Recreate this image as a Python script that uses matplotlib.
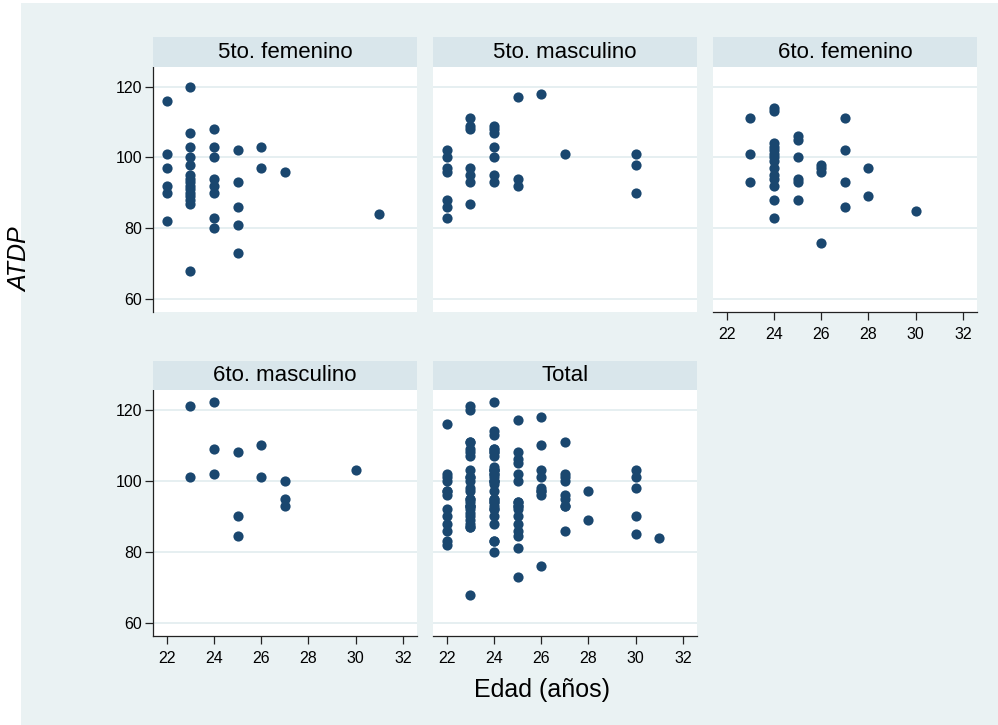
import matplotlib
matplotlib.use('Agg')
import matplotlib.pyplot as plt
from matplotlib.patches import Rectangle

plt.rcParams['font.family'] = ['Liberation Sans', 'DejaVu Sans']

# datos: edad (años) y puntaje ATDP por grupo
edad_5f = [22, 22, 22, 22, 22, 22,
           23, 23, 23, 23, 23, 23, 23, 23, 23, 23, 23, 23, 23, 23, 23,
           24, 24, 24, 24, 24, 24, 24, 24,
           25, 25, 25, 25, 25,
           26, 26, 27, 31]
atdp_5f = [116, 101, 97, 92, 90, 82,
           120, 107, 103, 100, 98, 95, 94, 93, 92, 91, 90, 89, 88, 87, 68,
           108, 103, 100, 94, 92, 90, 83, 80,
           102, 93, 86, 81, 73,
           103, 97, 96, 84]

edad_5m = [22, 22, 22, 22, 22, 22, 22,
           23, 23, 23, 23, 23, 23, 23,
           24, 24, 24, 24, 24, 24, 24,
           25, 25, 25, 26, 27, 30, 30, 30]
atdp_5m = [102, 100, 97, 96, 88, 86, 83,
           111, 109, 108, 97, 95, 93, 87,
           109, 108, 107, 103, 100, 95, 93,
           117, 94, 92, 118, 101, 101, 98, 90]

edad_6f = [23, 23, 23,
           24, 24, 24, 24, 24, 24, 24, 24, 24, 24, 24, 24, 24, 24,
           25, 25, 25, 25, 25, 25,
           26, 26, 26, 26,
           27, 27, 27, 27,
           28, 28, 30]
atdp_6f = [111, 101, 93,
           114, 113, 104, 103, 102, 101, 100, 99, 97, 95, 94, 92, 88, 83,
           106, 105, 100, 94, 93, 88,
           98, 97, 96, 76,
           111, 102, 93, 86,
           97, 89, 85]

edad_6m = [23, 23, 24, 24, 24, 25, 25, 25, 26, 26, 27, 27, 27, 30]
atdp_6m = [121, 101, 122, 109, 102, 108, 90, 84.5, 110, 101, 100, 95, 93, 103]

titulos = ['5to. femenino', '5to. masculino', '6to. femenino',
           '6to. masculino', 'Total']

edad_total = edad_5f + edad_5m + edad_6f + edad_6m
atdp_total = atdp_5f + atdp_5m + atdp_6f + atdp_6m

W, H = 998, 725
fig = plt.figure(figsize=(W / 100, H / 100), dpi=100, facecolor='white')
fig.add_artist(Rectangle((21 / W, 0), 1 - 21 / W, (H - 3) / H,
                         transform=fig.transFigure, facecolor='#EAF2F3',
                         edgecolor='none', zorder=-5))

col_left = [153.3, 433.3, 713.3]
col_w = 263.5
# (top, bottom, strip top) en pixeles
filas = [(67, 312, 37), (390, 636, 361.5)]

def panel(col, fila, titulo, x, y, show_y, show_x):
    top, bot, stop = filas[fila]
    left = col_left[col]
    ax = fig.add_axes([left / W, 1 - bot / H, col_w / W, (bot - top) / H])
    ax.set_facecolor('white')
    ax.scatter(x, y, s=54, color='#1A476F', linewidths=0, zorder=3)
    ax.set_xlim(21.44, 32.58)
    ax.set_ylim(56.4, 125.5)
    ax.set_yticks([60, 80, 100, 120])
    ax.set_xticks([22, 24, 26, 28, 30, 32])
    ax.yaxis.grid(True, color='#E4EEF0', lw=1.3)
    ax.set_axisbelow(True)
    for s in ['top', 'right', 'left', 'bottom']:
        ax.spines[s].set_visible(False)
    ax.tick_params(axis='y', left=show_y, labelleft=show_y, length=6,
                   width=0.9, pad=2, labelsize=11.5, color='#222222')
    ax.tick_params(axis='x', bottom=show_x, labelbottom=show_x, length=6,
                   width=0.9, pad=5, labelsize=11.5, color='#222222')
    if show_y:
        ax.spines['left'].set_visible(True)
        ax.spines['left'].set_color('#222222')
        ax.spines['left'].set_linewidth(0.9)
    if show_x:
        ax.spines['bottom'].set_visible(True)
        ax.spines['bottom'].set_color('#222222')
        ax.spines['bottom'].set_linewidth(0.9)
    sax = fig.add_axes([left / W, 1 - top / H, col_w / W, (top - stop) / H])
    sax.set_facecolor('#D9E6EB')
    sax.set_xticks([])
    sax.set_yticks([])
    for s in sax.spines.values():
        s.set_visible(False)
    sax.text(0.5, 0.5, titulo, ha='center', va='center', fontsize=16,
             transform=sax.transAxes)
    return ax

panel(0, 0, titulos[0], edad_5f, atdp_5f, True, False)
panel(1, 0, titulos[1], edad_5m, atdp_5m, False, False)
panel(2, 0, titulos[2], edad_6f, atdp_6f, False, True)
panel(0, 1, titulos[3], edad_6m, atdp_6m, True, True)
panel(1, 1, titulos[4], edad_total, atdp_total, False, True)

fig.text(20 / W, 1 - 260 / H, 'ATDP', rotation=90, style='italic',
         fontsize=18, ha='center', va='center')
fig.text(542 / W, 1 - 690 / H, 'Edad (años)', fontsize=18,
         ha='center', va='center')

fig.savefig('out.png', dpi=100)
